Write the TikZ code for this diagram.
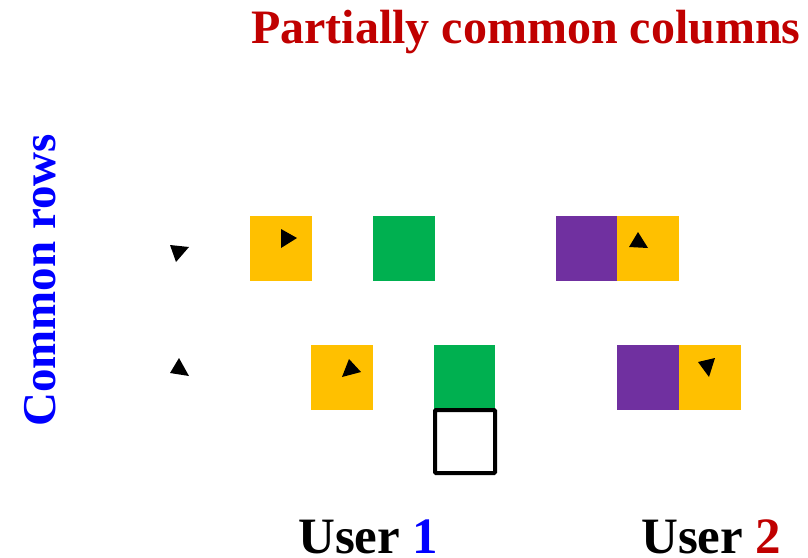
\documentclass[tikz,border=0pt]{standalone}
\usepackage{fontspec}
\setmainfont{Liberation Serif}
\definecolor{cyellow}{HTML}{FFC000}
\definecolor{cgreen}{HTML}{00B050}
\definecolor{cpurple}{HTML}{7030A0}
\definecolor{cred}{HTML}{C00000}
\definecolor{cblue}{HTML}{0000FF}
\tikzset{
  cell/.style={minimum width=62pt, minimum height=65pt, inner sep=0pt, outer sep=0pt, draw=none},
  outlinecell/.style={minimum width=60pt, minimum height=63pt, inner sep=0pt, draw=black, line width=4pt, rounded corners=1pt},
  tri/.style={fill=black},
  titletext/.style={inner sep=0pt, font=\bfseries\fontsize{48}{56}\selectfont},
  sidetext/.style={inner sep=0pt, font=\bfseries\fontsize{47}{56}\selectfont},
  usertext/.style={inner sep=0pt, font=\bfseries\fontsize{51}{60}\selectfont}
}
\begin{document}
\begin{tikzpicture}[x=1pt,y=-1pt]
\useasboundingbox (0,0) rectangle (808,557);

% titles
\node[titletext, text=cred, anchor=base west] (title) at (251,43) {Partially common columns};
\node[sidetext, text=cblue, anchor=base west, rotate=90] (rows) at (55,427) {Common rows};
\node[usertext, anchor=base west] (u1) at (298,553) {User \textcolor{cblue}{1}};
\node[usertext, anchor=base west] (u2) at (641,553) {User \textcolor{cred}{2}};

% first row
\node[cell, fill=cyellow] (a1) at (281,248.5) {};
\node[cell, fill=cgreen]  (g1) at (403.5,248.5) {};
\node[cell, fill=cpurple, minimum width=61pt] (p1) at (586.5,248.5) {};
\node[cell, fill=cyellow] (b1) at (648,248.5) {};

% second row
\node[cell, fill=cyellow] (a2) at (342,377.5) {};
\node[cell, fill=cgreen, minimum width=61pt]  (g2) at (464.5,377.5) {};
\node[cell, fill=cpurple] (p2) at (648,377.5) {};
\node[cell, fill=cyellow] (b2) at (710,377.5) {};
\node[outlinecell] (o2) at (465,441.5) {};

% small triangles
\fill[tri] (170,245) -- (189,247) -- (176,262) -- cycle;
\fill[tri] (281,229) -- (281,248) -- (297,238) -- cycle;
\fill[tri] (629,247) -- (648,248) -- (638,232) -- cycle;
\fill[tri] (170,373) -- (189,376) -- (179,358) -- cycle;
\fill[tri] (342,377) -- (361,372) -- (349,359) -- cycle;
\fill[tri] (698,362) -- (715,358) -- (709,377) -- cycle;
\end{tikzpicture}
\end{document}
